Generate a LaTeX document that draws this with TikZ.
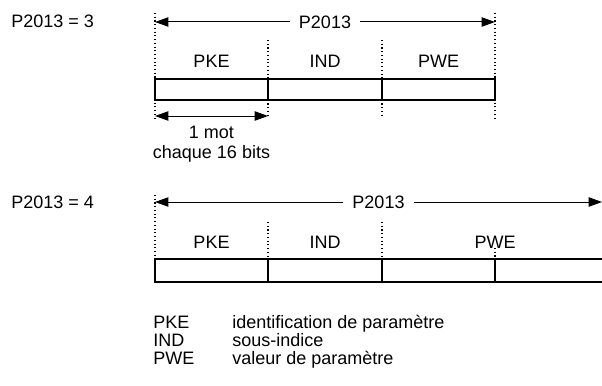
\documentclass[tikz,border=0pt]{standalone}
\usepackage{fontspec}
\setmainfont{Liberation Sans}
\usetikzlibrary{arrows.meta,positioning,calc}

\begin{document}
\begin{tikzpicture}[x=0.75pt,y=-0.75pt,
 txt/.style={font=\fontsize{13.5}{16}\selectfont,inner sep=0pt},
 cell/.style={draw,line width=1.6pt},
 guide/.style={dotted,line width=0.8pt},
 dim/.style={{Triangle[length=10pt,width=7pt]}-{Triangle[length=10pt,width=7pt]},line width=0.75pt},
 dimlab/.style={txt,fill=white,inner xsep=7pt}]
 \useasboundingbox (0,0) rectangle (602,385);
 \clip (0,0) rectangle (602,385);
 % case P2013 = 3
 \node[txt,anchor=base west] (cas3) at (11,28) {P2013 = 3};
 \coordinate (t0) at (155,13); \coordinate (t3) at (495,13);
 \coordinate (m1) at (268,40); \coordinate (m2) at (382,40);
 \coordinate (b0) at (155,118); \coordinate (b1) at (268,118);
 \coordinate (b2) at (382,118); \coordinate (b3) at (495,118);
 \draw[guide] (t0) -- (b0);
 \draw[guide] (m1) -- (b1);
 \draw[guide] (m2) -- (b2);
 \draw[guide] (t3) -- (b3);
 \coordinate (l3) at (155,22); \coordinate (r3) at (495,22);
 \draw[dim] (l3) -- node[dimlab] (tot3) {P2013} (r3);
 \node[txt,anchor=base] (pke3) at (211.5,68) {PKE};
 \node[txt,anchor=base] (ind3) at (325,68) {IND};
 \node[txt,anchor=base] (pwe3) at (438.5,68) {PWE};
 \coordinate (k0) at (155,79); \coordinate (k3) at (495,100);
 \coordinate (d1) at (268,79); \coordinate (e1) at (268,100);
 \coordinate (d2) at (382,79); \coordinate (e2) at (382,100);
 \draw[cell] (k0) rectangle (k3);
 \draw[cell] (d1) -- (e1);
 \draw[cell] (d2) -- (e2);
 \coordinate (w0) at (155,116); \coordinate (w1) at (268,116);
 \draw[dim] (w0) -- (w1);
 \node[txt,anchor=base] (mot) at (211.5,138) {1 mot};
 \node[txt,anchor=base] (bits) at (211.5,158) {chaque 16 bits};
 % case P2013 = 4
 \node[txt,anchor=base west] (cas4) at (11,208) {P2013 = 4};
 \coordinate (u0) at (155,195); \coordinate (v0) at (155,259);
 \coordinate (u1) at (268,222); \coordinate (v1) at (268,259);
 \coordinate (u2) at (382,222); \coordinate (v2) at (382,259);
 \coordinate (u3) at (495,248); \coordinate (v3) at (495,259);
 \draw[guide] (u0) -- (v0);
 \draw[guide] (u1) -- (v1);
 \draw[guide] (u2) -- (v2);
 \draw[guide] (u3) -- (v3);
 \coordinate (l4) at (155,202); \coordinate (r4) at (602,202);
 \draw[dim] (l4) -- node[dimlab] (tot4) {P2013} (r4);
 \node[txt,anchor=base] (pke4) at (211.5,248) {PKE};
 \node[txt,anchor=base] (ind4) at (325,248) {IND};
 \node[txt,anchor=base] (pwe4) at (495,248) {PWE};
 \coordinate (n0) at (155,259); \coordinate (n4) at (612,282);
 \coordinate (f1) at (268,282); \coordinate (f2) at (382,282);
 \coordinate (f3) at (495,282);
 \draw[cell] (n0) rectangle (n4);
 \draw[cell] (v1) -- (f1);
 \draw[cell] (v2) -- (f2);
 \draw[cell] (v3) -- (f3);
 % legend
 \node[txt,anchor=base west] (kpke) at (153,328) {PKE};
 \node[txt,anchor=base west] (kind) at (153,346) {IND};
 \node[txt,anchor=base west] (kpwe) at (153,364) {PWE};
 \node[txt,anchor=base west] (dpke) at (232,328) {identification de paramètre};
 \node[txt,anchor=base west] (dind) at (232,346) {sous-indice};
 \node[txt,anchor=base west] (dpwe) at (232,364) {valeur de paramètre};
\end{tikzpicture}
\end{document}
